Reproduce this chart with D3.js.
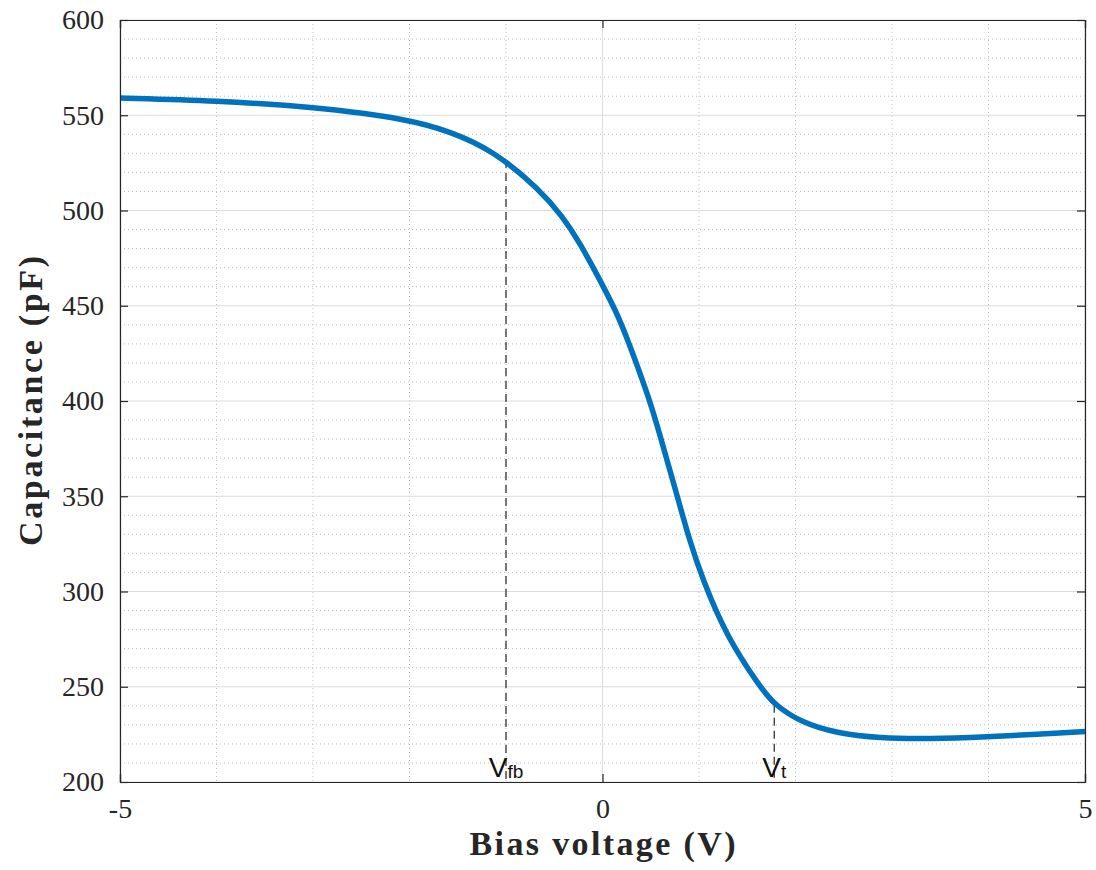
<!DOCTYPE html>
<html>
<head>
<meta charset="utf-8">
<script src="https://cdn.jsdelivr.net/npm/d3@7"></script>
<style>
  body { margin: 0; background: #fff; }
  svg { display: block; }
</style>
</head>
<body>
<div id="chart"></div>
<script>
// bias voltage (V) and capacitance (pF)
const biasVoltage = [-5, -4, -3, -2, -1.58, -1.14, -0.65, -0.41, -0.24, 0, 0.14, 0.245, 0.487, 0.59, 0.764, 0.9, 1.04, 1.28, 1.63, 1.78, 2.07, 2.42, 2.87, 3.39, 4, 4.5, 5];
const capacitance = [559, 557.6, 554.5, 547.9, 541.4, 531.8, 511, 496.5, 483.5, 461, 447, 434.5, 401, 383, 352, 327, 306, 277, 250, 240.6, 231, 225.7, 223, 222.6, 223.8, 225, 226.5];

// marker lines: flat-band and threshold voltage
const markerNames = ['fb', 't'];
const markerVoltage = [-1.0, 1.78];
const markerCap = [526.5, 240.6];

const xTicks = [-5, 0, 5];
const yTicks = [200, 250, 300, 350, 400, 450, 500, 550, 600];

const svgWidth = 1096;
const svgHeight = 870;
const margin = { top: 20, left: 120, right: 11, bottom: 88 };
const width = svgWidth - margin.left - margin.right;
const height = svgHeight - margin.top - margin.bottom;

const svg = d3.select('#chart')
    .append('svg')
    .attr('width', svgWidth)
    .attr('height', svgHeight)
    .append('g')
    .attr('transform', `translate(${margin.left}, ${margin.top})`);

const x = d3.scaleLinear().domain([-5, 5]).range([0, width]);
const y = d3.scaleLinear().domain([200, 600]).range([height, 0]);

const serif = '"Liberation Serif", "Times New Roman", serif';

// minor grid (dotted)
const minorX = d3.range(-5, 5.01, 1).filter(v => !xTicks.includes(v));
const minorY = d3.range(200, 600.01, 10).filter(v => !yTicks.includes(v));

svg.append('g').selectAll('line')
    .data(minorX).enter()
    .append('line')
    .attr('x1', d => x(d)).attr('x2', d => x(d))
    .attr('y1', 0).attr('y2', height)
    .attr('stroke', '#bdbdbd')
    .attr('stroke-width', 1)
    .attr('stroke-dasharray', '1,3');

svg.append('g').selectAll('line')
    .data(minorY).enter()
    .append('line')
    .attr('y1', d => y(d)).attr('y2', d => y(d))
    .attr('x1', 0).attr('x2', width)
    .attr('stroke', '#bdbdbd')
    .attr('stroke-width', 1)
    .attr('stroke-dasharray', '1,3');

// major grid
svg.append('g').selectAll('line')
    .data(xTicks).enter()
    .append('line')
    .attr('x1', d => x(d)).attr('x2', d => x(d))
    .attr('y1', 0).attr('y2', height)
    .attr('stroke', '#dcdcdc')
    .attr('stroke-width', 1);

svg.append('g').selectAll('line')
    .data(yTicks).enter()
    .append('line')
    .attr('y1', d => y(d)).attr('y2', d => y(d))
    .attr('x1', 0).attr('x2', width)
    .attr('stroke', '#dcdcdc')
    .attr('stroke-width', 1);

// dashed marker lines
markerNames.forEach((name, i) => {
    svg.append('line')
        .attr('x1', x(markerVoltage[i])).attr('x2', x(markerVoltage[i]))
        .attr('y1', y(markerCap[i])).attr('y2', height)
        .attr('stroke', '#333')
        .attr('stroke-width', 1.3)
        .attr('stroke-dasharray', '8,5');
});

// the C-V curve
const points = biasVoltage.map((v, i) => [v, capacitance[i]]);
const line = d3.line()
    .x(d => x(d[0]))
    .y(d => y(d[1]))
    .curve(d3.curveBasis);

svg.append('path')
    .datum(points)
    .attr('d', line)
    .attr('fill', 'none')
    .attr('stroke', '#0072BD')
    .attr('stroke-width', 5.5)
    .attr('stroke-linecap', 'butt');

// marker labels
markerNames.forEach((name, i) => {
    const t = svg.append('text')
        .attr('x', x(markerVoltage[i]))
        .attr('y', height - 5)
        .attr('text-anchor', 'middle')
        .style('font-family', '"Liberation Sans", Arial, sans-serif')
        .style('font-size', '28px')
        .style('fill', '#111');
    t.append('tspan').text('V');
    t.append('tspan').attr('dy', 1).style('font-size', '19px').text(name);
});

// axes: inward ticks on all four sides
const axisColor = '#262626';
const xAxis = d3.axisBottom(x).tickValues(xTicks).tickSize(-8).tickPadding(16).tickFormat(d3.format('d'));
const yAxis = d3.axisLeft(y).tickValues(yTicks).tickSize(-8).tickPadding(16);

const gx = svg.append('g').attr('transform', `translate(0, ${height})`).call(xAxis);
const gy = svg.append('g').call(yAxis);
const gxTop = svg.append('g').call(d3.axisTop(x).tickValues(xTicks).tickSize(-8).tickFormat(''));
const gyRight = svg.append('g').attr('transform', `translate(${width}, 0)`)
    .call(d3.axisRight(y).tickValues(yTicks).tickSize(-8).tickFormat(''));

[gx, gy, gxTop, gyRight].forEach(g => {
    g.select('.domain').attr('stroke', axisColor).attr('stroke-width', 1.2);
    g.selectAll('.tick line').attr('stroke', axisColor).attr('stroke-width', 1.2);
    g.selectAll('.tick text')
        .style('font-family', serif)
        .style('font-size', '28px')
        .style('fill', '#262626');
});
gx.selectAll('.tick text').text(d => d < 0 ? '-' + Math.abs(d) : d);

// axis titles
svg.append('text')
    .attr('x', width / 2)
    .attr('y', height + 73)
    .attr('text-anchor', 'middle')
    .attr('textLength', 266)
    .attr('lengthAdjust', 'spacing')
    .style('font-family', serif)
    .style('font-weight', 'bold')
    .style('font-size', '34px')
    .style('fill', '#262626')
    .text('Bias voltage (V)');

svg.append('text')
    .attr('transform', `translate(${-78}, ${y(400)}) rotate(-90)`)
    .attr('text-anchor', 'middle')
    .attr('textLength', 290)
    .attr('lengthAdjust', 'spacing')
    .style('font-family', serif)
    .style('font-weight', 'bold')
    .style('font-size', '34px')
    .style('fill', '#262626')
    .text('Capacitance (pF)');
</script>
</body>
</html>
